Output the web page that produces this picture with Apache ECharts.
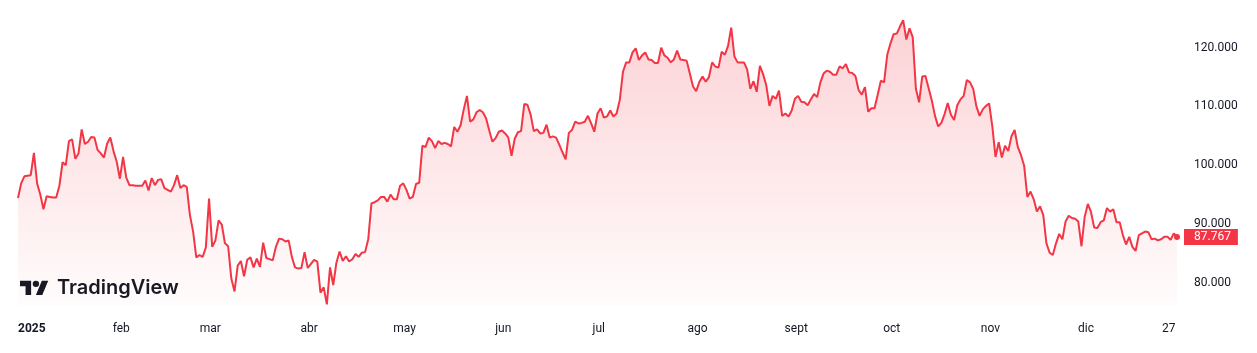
<!DOCTYPE html>
<html><head><meta charset="utf-8">
<script src="https://cdn.jsdelivr.net/npm/echarts@6/dist/echarts.min.js"></script>
<style>html,body{margin:0;padding:0;background:#fff}#c{width:1257px;height:353px}</style>
</head><body><div id="c"></div>
<script>
// ---- data (BTC daily close, thousands) ----
const year = 2025;
const monthLabels = ['2025','feb','mar','abr','may','jun','jul','ago','sept','oct','nov','dic'];
const extraLabels = [{month: 12, day: 27, text: '27'}];
const yTicks = [80, 90, 100, 110, 120];

const jan = [94.4,96.9,98.1,98.2,98.3,102.1,96.9,95.0,92.5,94.7,94.6,94.5,94.5,96.5,100.5,100.0,104.1,104.4,101.1,102.0,106.1,103.6,104.0,104.8,104.7,102.6,102.0,101.3,103.7,104.7,102.4];
const feb = [100.6,97.7,101.4,97.9,96.6,96.6,96.5,96.5,96.5,97.4,95.7,97.8,96.6,97.5,97.6,96.1,95.8,95.5,96.6,98.3,96.1,96.6,96.3,91.5,88.7,84.3,84.7,84.4];
const mar = [86.0,94.3,86.1,87.2,90.6,89.9,86.7,86.2,80.7,78.5,82.9,83.7,81.1,83.9,84.3,82.6,84.1,82.7,86.8,84.2,84.0,83.8,86.1,87.5,87.4,87.0,87.2,84.4,82.6,82.4,82.5];
const apr = [85.2,82.5,83.2,83.9,83.6,78.3,79.2,76.3,82.6,79.6,83.4,85.3,83.7,84.5,83.6,84.0,84.9,84.4,85.1,85.2,87.4,93.5,93.7,94.0,94.6,94.6,93.8,95.0,94.2,94.2];
const may = [96.5,96.9,95.8,94.3,94.6,96.8,97.0,103.3,103.1,104.7,104.1,102.9,104.1,103.6,103.8,103.6,103.2,106.5,105.7,106.8,109.5,111.8,107.4,107.8,109.0,109.4,109.0,108.0,105.9,104.0,104.6];
const jun = [105.7,105.9,105.4,104.7,101.6,104.5,105.6,105.8,110.4,110.3,108.6,105.8,106.1,105.4,105.5,106.9,104.7,104.9,104.7,103.5,102.2,101.0,105.5,106.0,107.4,107.1,107.2,107.4,108.4,107.1];
const jul = [105.7,108.8,109.7,108.1,108.3,109.3,108.3,108.8,111.1,115.9,117.5,117.5,119.2,119.9,117.9,118.7,119.2,118.0,117.9,117.4,117.4,120.0,118.7,118.3,117.5,118.0,119.5,118.0,117.9,117.8,115.6];
const aug = [113.4,112.6,114.2,115.1,114.2,115.0,117.5,116.8,116.6,119.3,118.8,120.3,123.4,118.5,117.5,117.5,117.5,116.3,113.0,114.3,112.5,116.9,115.5,113.6,110.1,111.8,111.3,112.7,108.4,108.8,108.3];
const sep = [109.3,111.3,111.8,110.8,110.7,110.2,111.2,112.1,111.6,114.1,115.6,116.1,115.9,115.4,115.4,116.8,116.5,117.2,115.8,115.7,115.2,112.8,112.0,113.3,109.1,109.7,109.7,112.0,114.4,114.1];
const oct = [118.8,120.7,122.3,122.4,123.6,124.7,121.4,123.3,121.8,113.0,110.7,115.1,115.2,113.1,111.0,108.4,106.6,107.2,108.7,110.6,108.6,107.7,110.2,111.2,111.8,114.5,114.1,113.0,110.0,108.4,109.5];
const nov = [110.1,110.5,106.6,101.4,103.9,101.3,103.3,102.4,104.9,106.0,103.1,101.7,99.9,94.6,95.5,94.2,92.1,93.0,91.5,86.7,85.1,84.7,86.7,88.3,87.4,90.4,91.4,91.0,90.9,90.4];
const dec = [86.2,91.2,93.4,92.0,89.4,89.3,90.3,90.6,92.7,92.1,92.5,90.3,90.3,88.1,86.5,87.8,86.1,85.4,88.1,88.4,88.7,88.6,87.4,87.5,87.2,87.4,87.8,87.8,87.3,88.4,87.767];

const months = [jan,feb,mar,apr,may,jun,jul,aug,sep,oct,nov,dec];

// ---- build category table ----
const categories = [], values = [], labelAt = {};
months.forEach((m, mi) => m.forEach((v, di) => {
  const idx = categories.length;
  categories.push(year + '-' + String(mi + 1).padStart(2, '0') + '-' + String(di + 1).padStart(2, '0'));
  values.push(v);
  if (di === 0) labelAt[idx] = monthLabels[mi];
  extraLabels.forEach(e => { if (e.month === mi + 1 && e.day === di + 1) labelAt[idx] = e.text; });
}));
const lastIdx = values.length - 1;
const lastVal = values[lastIdx];

function fmt(n) {
  return String(Math.round(n * 1000)).replace(/\B(?=(\d{3})+(?!\d))/g, '.');
}

const RED = '#F23645';
const TXT = '#131722';
const FONT = 'Roboto, "Noto Sans", sans-serif';

// logo glyph shapes (36x28 unit box)
const logoBar = [[14,22],[7,22],[7,11],[0,11],[0,4],[14,4]];
const logoSlash = [[28,22],[20,22],[27.5,4],[35.5,4]];
const LX = 20, LY = 277.5, LS = 0.795;

const chart = echarts.init(document.getElementById('c'), null, {renderer: 'canvas'});
chart.setOption({
  animation: false,
  backgroundColor: '#ffffff',
  grid: {left: 18, right: 80, top: 0, bottom: 47},
  xAxis: {
    type: 'category',
    data: categories,
    boundaryGap: false,
    axisLine: {show: false},
    axisTick: {show: false},
    splitLine: {show: false},
    axisLabel: {
      interval: (i) => labelAt[i] !== undefined,
      formatter: (v, i) => i === 0 ? '{y|' + labelAt[i] + '}' : '{m|' + labelAt[i] + '}',
      alignMinLabel: 'left',
      hideOverlap: false,
      margin: 16,
      rich: {
        y: {fontFamily: FONT, fontSize: 12, fontWeight: 'bold', color: TXT, lineHeight: 14},
        m: {fontFamily: FONT, fontSize: 12, color: TXT, lineHeight: 14, padding: [0, 0, 0, 9]}
      }
    }
  },
  yAxis: {
    type: 'value',
    position: 'right',
    min: 76.03,
    max: 128.12,
    axisLine: {show: false},
    axisTick: {show: false},
    splitLine: {show: false},
    axisLabel: {
      customValues: yTicks,
      align: 'left',
      margin: 17,
      color: TXT,
      fontSize: 12,
      fontFamily: FONT,
      formatter: (v) => fmt(v)
    }
  },
  series: [{
    type: 'line',
    data: values,
    showSymbol: false,
    symbol: 'none',
    lineStyle: {color: RED, width: 2},
    itemStyle: {color: RED},
    areaStyle: {
      color: {
        type: 'linear', x: 0, y: 0, x2: 0, y2: 1,
        colorStops: [
          {offset: 0, color: 'rgba(242,54,69,0.32)'},
          {offset: 1, color: 'rgba(242,54,69,0.02)'}
        ]
      }
    },
    markLine: {
      silent: true,
      symbol: ['none', 'none'],
      lineStyle: {color: 'rgba(0,0,0,0)', width: 0, type: 'solid'},
      data: [{yAxis: lastVal}],
      label: {
        show: true,
        position: 'end',
        distance: 7,
        formatter: () => fmt(lastVal),
        backgroundColor: RED,
        color: '#ffffff',
        fontFamily: FONT,
        fontSize: 12,
        lineHeight: 12,
        padding: [2, 7, 2, 10]
      }
    },
    markPoint: {
      silent: true,
      symbol: 'circle',
      symbolSize: 6,
      itemStyle: {color: RED},
      label: {show: false},
      data: [{coord: [lastIdx, lastVal]}]
    }
  }],
  graphic: [
    {type: 'polygon', x: LX, y: LY, scaleX: LS, scaleY: LS, shape: {points: logoBar}, style: {fill: TXT}},
    {type: 'polygon', x: LX, y: LY, scaleX: LS, scaleY: LS, shape: {points: logoSlash}, style: {fill: TXT}},
    {type: 'circle', x: LX, y: LY, scaleX: LS, scaleY: LS, shape: {cx: 20, cy: 8, r: 4}, style: {fill: TXT}},
    {type: 'text', x: 57, y: 288,
     style: {text: 'TradingView', fill: TXT, font: '600 20px Inter, Roboto, sans-serif', verticalAlign: 'middle', align: 'left'}}
  ]
});
</script>
</body></html>
